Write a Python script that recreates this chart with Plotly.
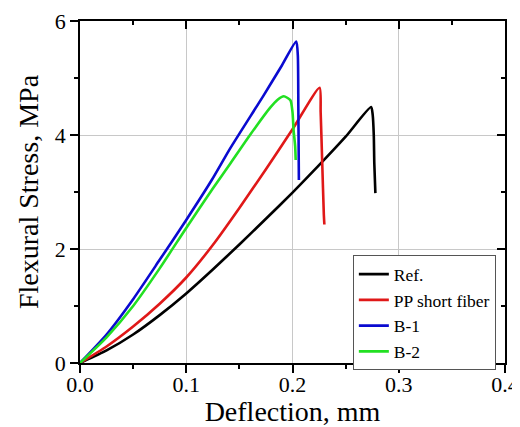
import plotly.graph_objects as go

# Data
ref_x = [0, 0.025, 0.05, 0.075, 0.1, 0.125, 0.15, 0.175, 0.2, 0.225, 0.25, 0.274, 0.2755, 0.2765, 0.277, 0.278]
ref_y = [0, 0.22, 0.50, 0.84, 1.22, 1.64, 2.08, 2.53, 2.99, 3.47, 3.97, 4.49, 4.35, 4.00, 3.50, 2.98]

pp_x = [0, 0.025, 0.05, 0.075, 0.1, 0.125, 0.15, 0.175, 0.2, 0.2255, 0.2265, 0.228, 0.2295, 0.230]
pp_y = [0, 0.29, 0.64, 1.04, 1.50, 2.07, 2.72, 3.40, 4.10, 4.83, 4.40, 3.50, 2.60, 2.43]

b1_x = [0, 0.025, 0.05, 0.075, 0.1, 0.124, 0.1415, 0.173, 0.19, 0.2035, 0.205, 0.2055, 0.206]
b1_y = [0, 0.50, 1.12, 1.81, 2.51, 3.21, 3.77, 4.70, 5.22, 5.64, 5.40, 4.50, 3.21]

b2_x = [0, 0.025, 0.05, 0.075, 0.1, 0.125, 0.1415, 0.16, 0.179, 0.186, 0.1918, 0.198, 0.200, 0.201, 0.2025, 0.203]
b2_y = [0, 0.45, 1.00, 1.66, 2.37, 3.06, 3.50, 4.00, 4.48, 4.62, 4.68, 4.61, 4.40, 4.09, 3.80, 3.56]

names = ["Ref.", "PP short fiber", "B-1", "B-2"]
colors = ["#000000", "#e01818", "#0a0ad0", "#22e022"]

x_ticks = [0, 0.1, 0.2, 0.3, 0.4]
x_ticktext = ["0.0", "0.1", "0.2", "0.3", "0.4"]
x_minor = [0.05, 0.15, 0.25, 0.35]
y_ticks = [0, 2, 4, 6]
y_minor = [1, 3, 5]

FONT = "Liberation Serif, Times New Roman, serif"

fig = go.Figure()
for xs, ys, nm, c in zip([ref_x, pp_x, b1_x, b2_x], [ref_y, pp_y, b1_y, b2_y], names, colors):
    fig.add_trace(go.Scatter(x=xs, y=ys, mode="lines", name=nm,
                             line=dict(color=c, width=2.6, shape="spline", smoothing=0.6)))

axis_common = dict(showline=True, linecolor="#000000", linewidth=1.5,
                   ticks="outside", ticklen=8, tickwidth=1.5, tickcolor="#000000",
                   showgrid=True, gridcolor="#c8c8c8", gridwidth=1, zeroline=False,
                   automargin=False,
                   tickfont=dict(family=FONT, size=22, color="#000000"))

# The page body adds an 8px offset, so the figure is 8px smaller than the window
fig.update_layout(
    width=512, height=419,
    margin=dict(l=72, r=15, t=13, b=64),
    paper_bgcolor="white", plot_bgcolor="white",
    font=dict(family=FONT, color="#000000"),
    xaxis=dict(range=[0, 0.4], tickvals=x_ticks, ticktext=x_ticktext,
               ticklabelstandoff=-7,
               minor=dict(tickvals=x_minor, ticks="outside", ticklen=4,
                          tickwidth=1.5, tickcolor="#000000", showgrid=False),
               title=dict(text="Deflection, mm", font=dict(family=FONT, size=28), standoff=6),
               **axis_common),
    yaxis=dict(range=[0, 6], tickvals=y_ticks,
               minor=dict(tickvals=y_minor, ticks="outside", ticklen=4,
                          tickwidth=1.5, tickcolor="#000000", showgrid=False),
               title=dict(text="Flexural Stress, MPa", font=dict(family=FONT, size=28), standoff=8),
               **axis_common),
    xaxis2=dict(overlaying="x", side="top", range=[0, 0.4], showline=True, linecolor="#000000",
                linewidth=1.5, ticks="inside", ticklen=8, tickwidth=1.5, tickcolor="#000000",
                tickvals=x_ticks, showticklabels=False, showgrid=False, zeroline=False,
                automargin=False,
                minor=dict(tickvals=x_minor, ticks="inside", ticklen=4,
                           tickwidth=1.5, tickcolor="#000000")),
    yaxis2=dict(overlaying="y", side="right", range=[0, 6], showline=True, linecolor="#000000",
                linewidth=1.5, ticks="inside", ticklen=8, tickwidth=1.5, tickcolor="#000000",
                tickvals=y_ticks, showticklabels=False, showgrid=False, zeroline=False,
                automargin=False,
                minor=dict(tickvals=y_minor, ticks="inside", ticklen=4,
                           tickwidth=1.5, tickcolor="#000000")),
    legend=dict(x=0.642, y=0.315, xanchor="left", yanchor="top",
                bgcolor="white", bordercolor="#555555", borderwidth=1,
                font=dict(family=FONT, size=17.5, color="#000000"),
                tracegroupgap=0, itemwidth=30),
    showlegend=True,
)

fig.add_trace(go.Scatter(x=[], y=[], xaxis="x2", yaxis="y2", showlegend=False, hoverinfo="skip"))

fig.write_html("out.html")
